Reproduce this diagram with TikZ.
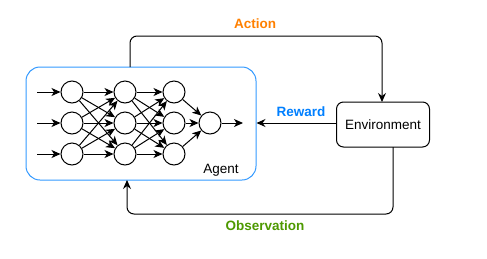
\documentclass[tikz,border=0pt]{standalone}
\usepackage{fontspec}
\setmainfont{Liberation Sans}
\usetikzlibrary{arrows.meta}
\definecolor{actcol}{HTML}{FF8000}
\definecolor{rewcol}{HTML}{007FFF}
\definecolor{obscol}{HTML}{4D9900}
\definecolor{agentline}{HTML}{3399FF}
\tikzset{
  neuron/.style={draw, circle, line width=1pt, minimum size=22pt, inner sep=0pt},
  link/.style={line width=1pt, -{Stealth[length=9pt,width=8pt,inset=2.5pt]}},
  flow/.style={line width=1pt, rounded corners=7pt, -{Stealth[length=9pt,width=8pt,inset=3pt]}},
  lbl/.style={font=\fontsize{13.5}{16}\selectfont\bfseries},
  plain/.style={font=\fontsize{13.5}{16}\selectfont},
}
\begin{document}
\begin{tikzpicture}[x=1pt,y=-1pt]
\useasboundingbox (0,0) rectangle (487,258);
% agent container
\node[draw=agentline, line width=1pt, rounded corners=14pt, minimum width=230pt, minimum height=113pt] (agent) at (141,123.5) {};
\node[plain] (agentlbl) at (221,170) {Agent};
% environment
\node[draw, line width=1pt, rounded corners=7pt, minimum width=93pt, minimum height=45pt, plain] (env) at (383,124.5) {Environment};
% network
\foreach \i/\y in {1/92,2/123,3/154}{
  \node[neuron] (a\i) at (72,\y) {};
  \node[neuron] (b\i) at (125,\y) {};
  \node[neuron] (c\i) at (174,\y) {};
  \coordinate (in\i) at (37,\y);
  \draw[link] (in\i) -- (a\i);
}
\node[neuron] (o) at (210,123) {};
\coordinate (out) at (243,123);
\foreach \i in {1,2,3}{
  \foreach \j in {1,2,3}{
    \draw[link] (a\i) -- (b\j);
    \draw[link] (b\i) -- (c\j);
  }
  \draw[link] (c\i) -- (o);
}
\draw[link] (o) -- (out);
% interaction loop
\coordinate (actstart) at (130,67);
\coordinate (actA) at (130,36);
\coordinate (actB) at (382,36);
\coordinate (actend) at (382,102);
\draw[flow] (actstart) -- (actA) -- (actB) -- (actend);
\node[lbl, text=actcol] (actlbl) at (255,24) {Action};
\coordinate (obsstart) at (393,147);
\coordinate (obsA) at (393,214);
\coordinate (obsB) at (127,214);
\coordinate (obsend) at (127,180);
\draw[flow] (obsstart) -- (obsA) -- (obsB) -- (obsend);
\node[lbl, text=obscol] (obslbl) at (265,226) {Observation};
\coordinate (rewstart) at (336,123);
\draw[flow] (rewstart) -- (agent.east |- rewstart);
\node[lbl, text=rewcol] (rewlbl) at (301,112) {Reward};
\end{tikzpicture}
\end{document}
